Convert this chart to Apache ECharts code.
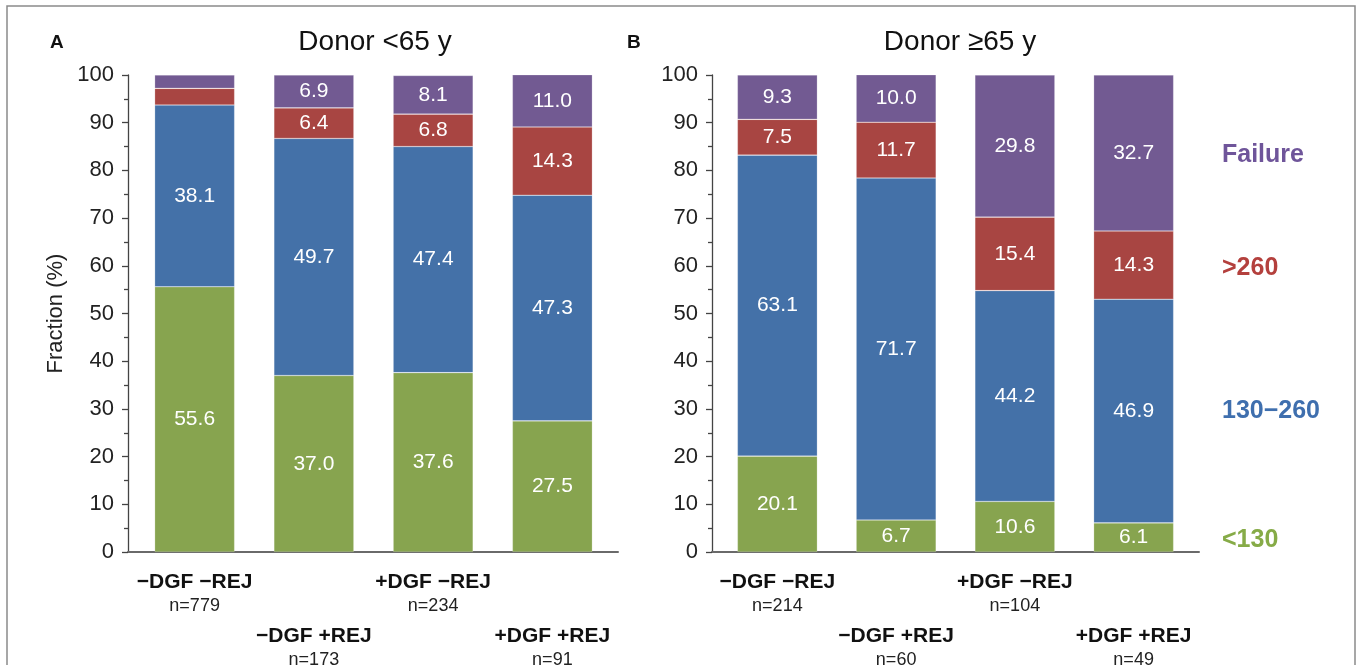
<!DOCTYPE html>
<html>
<head>
<meta charset="utf-8">
<script src="https://cdn.jsdelivr.net/npm/echarts@6/dist/echarts.min.js"></script>
<style>
  html, body { margin: 0; padding: 0; background: #fff; }
  #chart { width: 1357px; height: 665px; }
</style>
</head>
<body>
<div id="chart"></div>
<script>
// Groups (delayed graft function / rejection) and their sizes
const groups = ['\u2212DGF \u2212REJ', '\u2212DGF +REJ', '+DGF \u2212REJ', '+DGF +REJ'];
const nYoung = ['n=779', 'n=173', 'n=234', 'n=91'];
const nOld = ['n=214', 'n=60', 'n=104', 'n=49'];

// eGFR classes, bottom to top
const classNames = ['<130', '130\u2212260', '>260', 'Failure'];

// Fraction (%) per class, donor < 65 y
const youngLow = [55.6, 37.0, 37.6, 27.5];
const youngMid = [38.1, 49.7, 47.4, 47.3];
const youngHigh = [3.5, 6.4, 6.8, 14.3];
const youngFail = [2.8, 6.9, 8.1, 11.0];

// Fraction (%) per class, donor >= 65 y
const oldLow = [20.1, 6.7, 10.6, 6.1];
const oldMid = [63.1, 71.7, 44.2, 46.9];
const oldHigh = [7.5, 11.7, 15.4, 14.3];
const oldFail = [9.3, 10.0, 29.8, 32.7];

const yTicks = [0, 10, 20, 30, 40, 50, 60, 70, 80, 90, 100];

const barColors = ['#87a44f', '#4471a8', '#a84542', '#725a92'];
const textColors = ['#86ab47', '#3f6fae', '#b4403d', '#6f559a'];

const FONT = 'Liberation Sans, Arial, Helvetica, sans-serif';

const chart = echarts.init(document.getElementById('chart'));

function catLabel(nList) {
  return {
    interval: 0,
    margin: 18,
    fontFamily: FONT,
    formatter: function (v, i) {
      const body = '{b|' + v + '}\n{n|' + nList[i] + '}';
      return i % 2 === 0 ? body : '{s| }\n' + body;
    },
    rich: {
      b: { fontSize: 21, fontWeight: 'bold', color: '#111', lineHeight: 24, fontFamily: FONT },
      n: { fontSize: 18, color: '#222', lineHeight: 24, fontFamily: FONT },
      s: { fontSize: 10, lineHeight: 54 }
    }
  };
}

function frameY(withName) {
  const ax = {
    type: 'value', min: yTicks[0], max: yTicks[yTicks.length - 1], interval: 10,
    axisLine: { show: true, lineStyle: { color: '#444', width: 1.3 } },
    axisTick: { show: true, length: 6, lineStyle: { color: '#444', width: 1.3 } },
    minorTick: { show: true, splitNumber: 2, length: 4, lineStyle: { color: '#444', width: 1.3 } },
    splitLine: { show: false },
    axisLabel: { fontSize: 22, color: '#222', margin: 14, fontFamily: FONT }
  };
  if (withName) {
    ax.name = 'Fraction (%)';
    ax.nameLocation = 'middle';
    ax.nameGap = 61;
    ax.nameTextStyle = { fontSize: 22, color: '#222', fontFamily: FONT };
  }
  return ax;
}

function segLabel() {
  return {
    show: true,
    position: 'inside',
    color: '#fff',
    fontSize: 21,
    fontFamily: FONT,
    formatter: function (p) { return p.value >= 5 ? p.value.toFixed(1) : ''; }
  };
}

function stackSeries(lists, xi, yi, stack) {
  return lists.map(function (d, k) {
    return {
      name: classNames[k],
      type: 'bar',
      stack: stack,
      xAxisIndex: xi,
      yAxisIndex: yi,
      barWidth: 80,
      data: d,
      itemStyle: { color: barColors[k], borderColor: 'rgba(255,255,255,0.35)', borderWidth: 0.6 },
      label: segLabel(),
      emphasis: { disabled: true }
    };
  });
}

function grid(left, width) {
  return { left: left, top: 75, width: width, height: 477, outerBoundsMode: 'none', containLabel: false };
}

const option = {
  animation: false,
  backgroundColor: '#fff',
  title: [
    { text: 'Donor <65 y', left: 370, top: 23, textAlign: 'center',
      textStyle: { fontSize: 28, fontWeight: 'normal', color: '#111', fontFamily: FONT } },
    { text: 'Donor \u226565 y', left: 955, top: 23, textAlign: 'center',
      textStyle: { fontSize: 28, fontWeight: 'normal', color: '#111', fontFamily: FONT } },
    { text: 'A', left: 45, top: 28,
      textStyle: { fontSize: 19, fontWeight: 'bold', color: '#111', fontFamily: FONT } },
    { text: 'B', left: 622, top: 28,
      textStyle: { fontSize: 19, fontWeight: 'bold', color: '#111', fontFamily: FONT } }
  ],
  grid: [grid(135, 477), grid(128, 490), grid(718, 475), grid(712, 487)],
  xAxis: [
    { type: 'category', gridIndex: 0, data: groups,
      axisLine: { show: false }, axisTick: { show: false }, axisLabel: catLabel(nYoung) },
    { type: 'value', gridIndex: 1, min: 0, max: 1,
      axisLine: { show: true, lineStyle: { color: '#6a6a6a', width: 2 } },
      axisTick: { show: false }, axisLabel: { show: false }, splitLine: { show: false } },
    { type: 'category', gridIndex: 2, data: groups,
      axisLine: { show: false }, axisTick: { show: false }, axisLabel: catLabel(nOld) },
    { type: 'value', gridIndex: 3, min: 0, max: 1,
      axisLine: { show: true, lineStyle: { color: '#6a6a6a', width: 2 } },
      axisTick: { show: false }, axisLabel: { show: false }, splitLine: { show: false } }
  ],
  yAxis: [
    { type: 'value', gridIndex: 0, min: 0, max: 100, show: false },
    Object.assign(frameY(true), { gridIndex: 1 }),
    { type: 'value', gridIndex: 2, min: 0, max: 100, show: false },
    Object.assign(frameY(false), { gridIndex: 3 })
  ],
  series: [].concat(
    stackSeries([youngLow, youngMid, youngHigh, youngFail], 0, 0, 'young'),
    stackSeries([oldLow, oldMid, oldHigh, oldFail], 2, 2, 'old')
  ),
  graphic: [
    { type: 'rect', silent: true, shape: { x: 7, y: 6, width: 1348, height: 700 },
      style: { fill: 'none', stroke: '#8a8a8a', lineWidth: 1.5 } },
    { type: 'text', left: 1222, top: 143, style: { text: classNames[3], fill: textColors[3], font: 'bold 25px ' + FONT } },
    { type: 'text', left: 1222, top: 256, style: { text: classNames[2], fill: textColors[2], font: 'bold 25px ' + FONT } },
    { type: 'text', left: 1222, top: 399, style: { text: classNames[1], fill: textColors[1], font: 'bold 25px ' + FONT } },
    { type: 'text', left: 1222, top: 528, style: { text: classNames[0], fill: textColors[0], font: 'bold 25px ' + FONT } }
  ]
};

chart.setOption(option);
</script>
</body>
</html>
